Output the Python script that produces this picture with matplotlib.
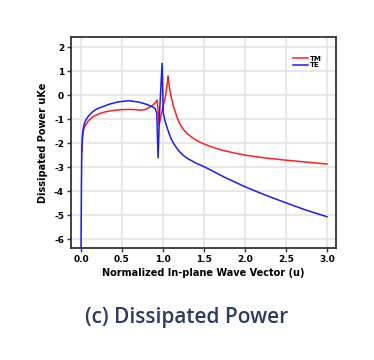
import matplotlib
matplotlib.use("Agg")
import matplotlib.pyplot as plt

# Data
tm_u = [0.01, 0.013, 0.018, 0.025, 0.035, 0.05, 0.07, 0.1, 0.15, 0.23, 0.3, 0.4, 0.5, 0.578,
        0.65, 0.72, 0.78, 0.834, 0.88, 0.91, 0.928, 0.94, 0.952, 0.97, 0.99, 1.01,
        1.03, 1.045, 1.062, 1.07, 1.08, 1.09, 1.1, 1.12, 1.14, 1.18, 1.21, 1.25, 1.3,
        1.38, 1.45, 1.55, 1.65, 1.75, 1.9, 2.0, 2.25, 2.5, 2.75, 3.0]
tm_v = [-2.35, -2.0, -1.75, -1.55, -1.4, -1.28, -1.17, -1.03, -0.89, -0.76, -0.69, -0.63, -0.6, -0.59,
        -0.6, -0.62, -0.6, -0.51, -0.4, -0.3, -0.2, -0.6, -1.25, -0.95, -0.62, -0.35,
        -0.05, 0.3, 0.8, 0.55, 0.3, 0.1, -0.08, -0.35, -0.6, -1.0, -1.22, -1.43, -1.62,
        -1.82, -1.96, -2.1, -2.22, -2.32, -2.43, -2.5, -2.62, -2.71, -2.79, -2.87]

te_u = [0.0, 0.004, 0.008, 0.012, 0.016, 0.02, 0.028, 0.04, 0.05, 0.065, 0.08, 0.1, 0.12,
        0.15, 0.18, 0.22, 0.27, 0.35, 0.45, 0.578, 0.7, 0.8, 0.88, 0.904, 0.924, 0.94,
        0.96, 0.989, 1.0, 1.005, 1.026, 1.05, 1.08, 1.1, 1.127, 1.16, 1.2, 1.25, 1.3,
        1.4, 1.5, 1.75, 2.0, 2.25, 2.5, 2.75, 3.0]
te_v = [-6.4, -4.5, -2.8, -2.2, -1.85, -1.6, -1.38, -1.2, -1.1, -1.0, -0.92, -0.83, -0.76,
        -0.67, -0.6, -0.53, -0.47, -0.37, -0.28, -0.23, -0.28, -0.38, -0.5, -0.55, -0.75, -2.61,
        -0.6, 1.33, -0.3, -0.75, -1.1, -1.35, -1.65, -1.82, -2.0, -2.17, -2.35, -2.52, -2.64,
        -2.83, -2.98, -3.42, -3.82, -4.17, -4.49, -4.8, -5.07]

x_ticks = [0.0, 0.5, 1.0, 1.5, 2.0, 2.5, 3.0]
y_ticks = [2, 1, 0, -1, -2, -3, -4, -5, -6]

plt.rcParams['font.family'] = ['DejaVu Sans']

fig = plt.figure(figsize=(3.74, 3.6), dpi=100)
ax = fig.add_axes([71/374, 1 - 248/360, (336-71)/374, (248-37)/360])

ax.plot(tm_u, tm_v, color='#ff2020', lw=1.1, label='TM')
ax.plot(te_u, te_v, color='#1a1aff', lw=1.1, label='TE')

ax.set_xlim(-0.122, 3.11)
ax.set_ylim(-6.375, 2.43)
ax.set_xticks(x_ticks)
ax.set_xticklabels([f"{v:.1f}" for v in x_ticks])
ax.set_yticks(y_ticks)
ax.set_yticklabels([str(v) for v in y_ticks])

ax.grid(True, color='#e6e6e6', lw=1.3)
ax.set_axisbelow(True)
for s in ax.spines.values():
    s.set_color('#333333')
    s.set_linewidth(1.3)
ax.tick_params(direction='out', length=3, width=1, color='#333333',
               labelsize=6.5, pad=2)
for lab in ax.get_xticklabels() + ax.get_yticklabels():
    lab.set_fontweight('bold')

ax.set_xlabel('Normalized In-plane Wave Vector (u)', fontsize=7, fontweight='bold', labelpad=3)
ax.set_ylabel('Dissipated Power uKe', fontsize=7, fontweight='bold', labelpad=4)

leg = ax.legend(loc='upper right', frameon=False, prop={'size': 5, 'weight': 'bold'},
                handlelength=2.2, handletextpad=0.3, labelspacing=0.05,
                bbox_to_anchor=(0.97, 0.94))

fig.text(0.5, 1 - 318/360, '(c) Dissipated Power', ha='center', va='center',
         fontsize=15, color='#2c3a66', family=['Open Sans', 'DejaVu Sans'], fontweight=600)

fig.savefig('out.png', dpi=100)
